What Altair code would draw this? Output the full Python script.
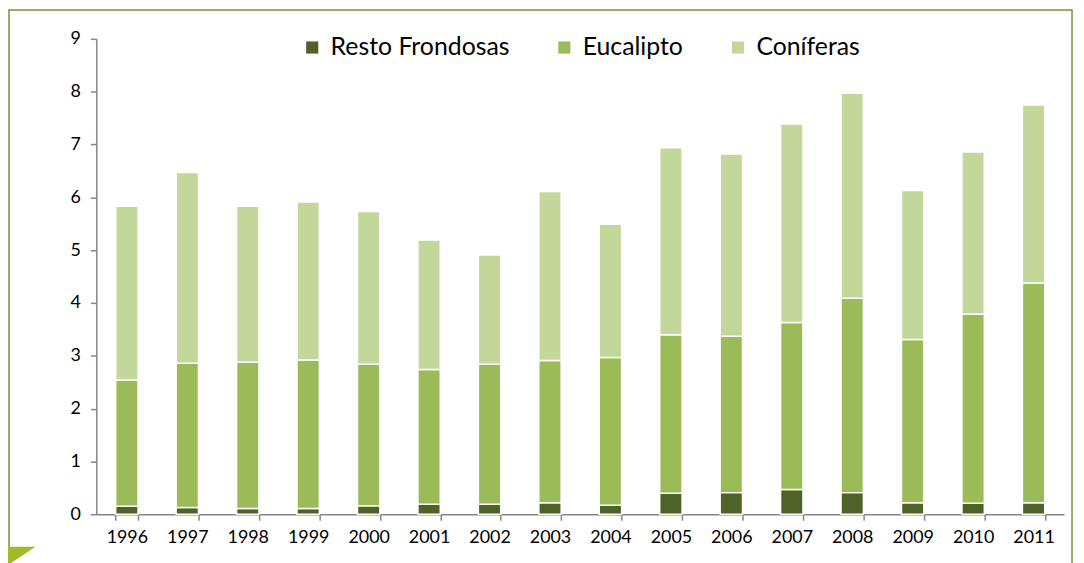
import altair as alt
import pandas as pd

years = [str(y) for y in range(1996, 2012)]
resto = [0.15, 0.13, 0.11, 0.11, 0.16, 0.19, 0.19, 0.22, 0.17, 0.40, 0.41, 0.47, 0.41, 0.22, 0.21, 0.22]
euc_cum = [2.54, 2.86, 2.88, 2.92, 2.84, 2.74, 2.84, 2.91, 2.97, 3.40, 3.37, 3.63, 4.09, 3.31, 3.79, 4.38]
total = [5.83, 6.47, 5.83, 5.91, 5.73, 5.19, 4.91, 6.11, 5.49, 6.94, 6.82, 7.39, 7.97, 6.13, 6.86, 7.75]
series = ["Resto Frondosas", "Eucalipto", "Coníferas"]
colors = ["#4F6228", "#9BBB59", "#C4D79B"]

rows = []
for i, y in enumerate(years):
    rows.append({"year": y, "serie": series[0], "value": resto[i], "ord": 0})
    rows.append({"year": y, "serie": series[1], "value": round(euc_cum[i] - resto[i], 2), "ord": 1})
    rows.append({"year": y, "serie": series[2], "value": round(total[i] - euc_cum[i], 2), "ord": 2})
df = pd.DataFrame(rows)

FONT = "Lato"

bars = alt.Chart(df).mark_bar(stroke="white", strokeWidth=1.5).encode(
    x=alt.X("year:N", sort=years, title=None,
            scale=alt.Scale(paddingInner=0.63, paddingOuter=0.32),
            axis=alt.Axis(labelAngle=0, labelFontSize=18, labelFont=FONT, labelColor="#000000",
                          domainColor="#868686", tickColor="#868686", tickSize=6,
                          tickBand="extent", labelPadding=8, domainWidth=1.5, tickWidth=1.5)),
    y=alt.Y("value:Q", stack="zero", title=None,
            scale=alt.Scale(domain=[0, 9], nice=False),
            axis=alt.Axis(values=list(range(0, 10)), grid=False, labelFontSize=18, labelFont=FONT,
                          labelColor="#000000", domainColor="#868686", tickColor="#868686",
                          tickSize=6, labelPadding=10, domainWidth=1.5, tickWidth=1.5)),
    color=alt.Color("serie:N", sort=series,
                    scale=alt.Scale(domain=series, range=colors),
                    legend=alt.Legend(title=None, orient="none", direction="horizontal",
                                      legendX=205, legendY=-4, symbolType="square",
                                      symbolSize=150, symbolStrokeWidth=0, labelFontSize=25,
                                      labelFont=FONT, labelColor="#000000", columnPadding=42,
                                      labelOffset=6, labelLimit=400)),
    order=alt.Order("ord:Q"),
)

frame = alt.Chart(pd.DataFrame({"a": [0]})).mark_rect(
    fill=None, stroke="#77933C", strokeWidth=1.5
).encode(x=alt.value(-88), x2=alt.value(983), y=alt.value(-29), y2=alt.value(700))

tri = alt.Chart(pd.DataFrame({"a": [0]})).mark_point(
    shape="M -1 -0.5 L 1 -0.5 L -0.5 0.5 Z", filled=True, fill="#A4B92A", strokeWidth=0,
    size=1400, opacity=1
).encode(x=alt.value(-80), y=alt.value(521))

chart = alt.layer(bars, frame, tri).properties(
    width=975, height=479,
    autosize=alt.AutoSizeParams(type="none"),
    padding={"left": 89, "top": 29, "right": 12, "bottom": 47},
).configure(background="white").configure_view(stroke=None)

chart.save("out.html", embed_options={"renderer": "svg", "actions": False})
